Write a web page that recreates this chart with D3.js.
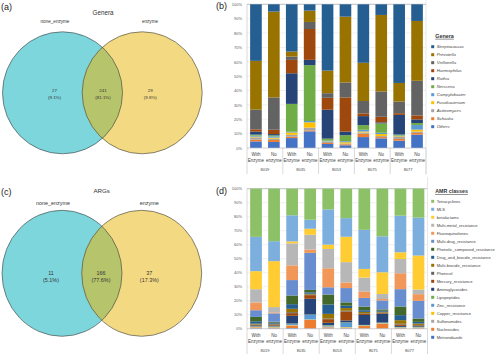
<!DOCTYPE html>
<html><head><meta charset="utf-8">
<script src="https://cdn.jsdelivr.net/npm/d3@7"></script>
<style>
body{margin:0;background:#fff}
svg{display:block}
text{font-family:"Liberation Sans",Arial,sans-serif}
</style>
</head><body>
<svg id="chart" width="500" height="354"></svg>
<script>
// ---------- DATA ----------
const sampleGroups = ["8019", "8035", "8053", "8075", "8077"];
const conditionLabels = [["With", "Enzyme"], ["No", "enzyme"]];
const yTicks = [0, 0.1, 0.2, 0.3, 0.4, 0.5, 0.6, 0.7, 0.8, 0.9, 1];

// Venn (a) Genera
const vennGeneraSets = ["none_enzyme", "enzyme"];
const vennGeneraCounts = ["27", "241", "29"];
const vennGeneraPercents = ["(9.1%)", "(81.1%)", "(9.8%)"];
// Venn (c) ARGs
const vennArgSets = ["none_enzyme", "enzyme"];
const vennArgCounts = ["11", "166", "37"];
const vennArgPercents = ["(5.1%)", "(77.6%)", "(17.3%)"];

// (b) genera, bars: 8019 With, 8019 No, 8035 With, 8035 No, ... 8077 No
const generaNames = ["Streptococcus", "Prevotella", "Veillonella", "Haemophilus", "Rothia", "Neisseria",
  "Campylobacter", "Fusobacterium", "Actinomyces", "Schaalia", "Others"]; // legend order (top of bar first)
const streptococcus = [39.4, 5.1, 32.9, 4.4, 46.1, 8.6, 40.7, 7.4, 54.9, 11.6];
const prevotella    = [34.0, 59.7, 3.5, 7.9, 15.7, 45.8, 26.6, 53.2, 13.0, 41.7];
const veillonella   = [13.7, 22.5, 2.3, 4.9, 3.2, 10.4, 8.6, 17.6, 8.1, 24.1];
const haemophilus   = [1.6, 3.0, 9.3, 21.5, 8.3, 23.8, 1.9, 3.9, 1.2, 2.8];
const rothia        = [2.1, 0.9, 21.3, 3.7, 20.1, 2.5, 6.3, 0.7, 13.7, 2.5];
const neisseria     = [0.7, 0.7, 19.4, 38.9, 1.4, 4.2, 3.2, 6.5, 0.7, 1.4];
const campylobacter = [0.7, 0.9, 0.5, 0.9, 0.5, 0.7, 1.2, 0.9, 0.5, 3.2];
const fusobacterium = [0.5, 0.7, 1.6, 3.7, 0.2, 0.9, 0.7, 1.4, 0.5, 1.4];
const actinomyces   = [1.6, 0.9, 1.4, 1.9, 0.9, 0.5, 0.9, 0.7, 1.4, 0.9];
const schaalia      = [1.2, 1.4, 0.9, 0.7, 0.7, 0.7, 2.3, 0.9, 1.2, 1.2];
const otherGenera   = [4.6, 4.2, 6.9, 11.6, 2.8, 1.9, 7.6, 6.7, 5.1, 9.3];
const generaColors = ["#255E91", "#997300", "#636363", "#9E480E", "#264478", "#70AD47",
  "#5B9BD5", "#FFC000", "#A5A5A5", "#ED7D31", "#4472C4"];

// (d) AMR classes
const amrNames = ["Tetracyclines", "MLS", "betalactams", "Multi-metal_resistance", "Fluoroquinolones",
  "Multi-drug_resistance", "Phenolic_compound_resistance", "Drug_and_biocide_resistance",
  "Multi-biocide_resistance", "Phenicol", "Mercury_resistance", "Aminoglycosides", "Lipopeptides",
  "Zinc_resistance", "Copper_resistance", "Sulfonamides", "Nucleosides", "Metronidazole"];
const tetracyclines   = [34.4, 37.6, 19.0, 22.1, 14.8, 21.0, 29.4, 34.0, 19.3, 20.7];
const mls             = [24.5, 14.3, 18.6, 6.4, 25.2, 13.3, 27.9, 25.7, 26.2, 27.1];
const betalactams     = [12.9, 32.9, 1.4, 4.3, 3.1, 18.1, 6.2, 15.5, 4.8, 24.3];
const multiMetal      = [9.5, 3.8, 15.7, 10.5, 13.8, 14.5, 10.0, 3.6, 10.2, 3.3];
const fluoroquinolones= [5.5, 0.7, 10.5, 2.4, 13.6, 4.0, 4.5, 1.0, 11.4, 4.8];
const multiDrug       = [4.8, 6.0, 11.0, 26.4, 5.2, 10.2, 6.2, 6.4, 12.4, 12.6];
const phenolic        = [3.1, 0.7, 6.2, 1.7, 7.1, 2.4, 2.6, 1.0, 6.2, 2.4];
const drugBiocide     = [1.7, 0.7, 3.3, 1.0, 6.7, 1.7, 1.2, 0.7, 3.6, 1.2];
const multiBiocide    = [0.6, 0.4, 2.4, 0.5, 3.3, 1.9, 1.0, 0.5, 2.6, 1.0];
const phenicol        = [0.2, 0.5, 0.7, 0.5, 0.5, 0.5, 0.5, 0.5, 0.5, 0.3];
const mercury         = [0.4, 0.5, 1.9, 2.6, 2.6, 6.4, 0.7, 0.5, 1.0, 0.5];
const aminoglycosides = [0.7, 0.5, 5.5, 11.2, 1.7, 1.4, 7.1, 6.2, 0.7, 0.5];
const lipopeptides    = [0.2, 0.3, 0.3, 0.2, 0.3, 0.3, 0.2, 0.2, 0.2, 0.3];
const zinc            = [0.2, 0.3, 0.7, 3.3, 0.7, 3.1, 0.2, 0.3, 0.2, 0.2];
const copper          = [0.2, 0.2, 0.2, 0.2, 0.3, 0.3, 0.2, 0.2, 0.2, 0.2];
const sulfonamides    = [0.2, 0.2, 0.3, 0.2, 0.3, 0.2, 0.2, 0.2, 0.2, 0.2];
const nucleosides     = [0.5, 0.4, 1.7, 6.0, 0.7, 0.3, 1.7, 3.3, 0.3, 0.3];
const metronidazole   = [0.4, 0.3, 0.5, 0.2, 0.2, 0.3, 0.2, 0.2, 0.2, 0.2];
const amrColors = ["#8CC168", "#7CAFDD", "#FFCD33", "#B7B7B7", "#F1975A", "#698ED0", "#43682B",
  "#255E91", "#997300", "#636363", "#9E480E", "#264478", "#70AD47", "#5B9BD5", "#FFC000",
  "#A5A5A5", "#ED7D31", "#4472C4"];

const generaSeries = [streptococcus, prevotella, veillonella, haemophilus, rothia, neisseria,
  campylobacter, fusobacterium, actinomyces, schaalia, otherGenera];
const amrSeries = [tetracyclines, mls, betalactams, multiMetal, fluoroquinolones, multiDrug, phenolic,
  drugBiocide, multiBiocide, phenicol, mercury, aminoglycosides, lipopeptides, zinc, copper,
  sulfonamides, nucleosides, metronidazole];

// ---------- DRAW ----------
const svg = d3.select("#chart");

function panelLabel(txt, x, y) {
  svg.append("text").attr("x", x).attr("y", y).attr("font-size", 9).attr("fill", "#222").text(txt);
}

function venn(o) {
  const g = svg.append("g");
  const id = "clip" + o.id;
  g.append("clipPath").attr("id", id).append("ellipse")
    .attr("cx", o.lx).attr("cy", o.cy).attr("rx", o.rx).attr("ry", o.ry);
  g.append("ellipse").attr("cx", o.lx).attr("cy", o.cy).attr("rx", o.rx).attr("ry", o.ry)
    .attr("fill", "#7ED6DD");
  g.append("ellipse").attr("cx", o.rxC).attr("cy", o.cy).attr("rx", o.rx).attr("ry", o.ry)
    .attr("fill", "#F3DA82");
  g.append("ellipse").attr("cx", o.rxC).attr("cy", o.cy).attr("rx", o.rx).attr("ry", o.ry)
    .attr("fill", "#B6C46C").attr("clip-path", `url(#${id})`);
  [o.lx, o.rxC].forEach(cx => g.append("ellipse").attr("cx", cx).attr("cy", o.cy)
    .attr("rx", o.rx).attr("ry", o.ry).attr("fill", "none").attr("stroke", "#3a3a3a").attr("stroke-width", 0.6));
  g.append("text").attr("x", o.titleX).attr("y", o.titleY).attr("text-anchor", "middle")
    .attr("font-size", o.titleSize).attr("fill", "#333").text(o.title);
  o.sets.forEach((s, i) => g.append("text").attr("x", o.setX[i]).attr("y", o.setY)
    .attr("text-anchor", "middle").attr("font-size", o.setSize).attr("fill", "#333").text(s));
  o.counts.forEach((c, i) => {
    g.append("text").attr("x", o.numX[i]).attr("y", o.numY).attr("text-anchor", "middle")
      .attr("font-size", o.numSize).attr("fill", "#333").text(c);
    g.append("text").attr("x", o.numX[i]).attr("y", o.numY + o.numGap).attr("text-anchor", "middle")
      .attr("font-size", o.numSize).attr("fill", "#333").text(o.pcts[i]);
  });
}

venn({id: "a", lx: 62.5, rxC: 142.2, cy: 92.8, rx: 60, ry: 61, title: "Genera", titleX: 103, titleY: 15,
  titleSize: 6.3, sets: vennGeneraSets, setX: [55, 150], setY: 23, setSize: 4.6,
  counts: vennGeneraCounts, pcts: vennGeneraPercents, numX: [54.5, 103, 150.3], numY: 92.3, numGap: 7, numSize: 4.4});
venn({id: "c", lx: 62, rxC: 141.7, cy: 273.3, rx: 60, ry: 63, title: "ARGs", titleX: 101.7, titleY: 193.2,
  titleSize: 6.2, sets: vennArgSets, setX: [53, 149.3], setY: 204.8, setSize: 5.4,
  counts: vennArgCounts, pcts: vennArgPercents, numX: [51, 101, 149.3], numY: 274.8, numGap: 7.6, numSize: 5.4});

panelLabel("(a)", 1, 9.5);
panelLabel("(b)", 216, 9.3);
panelLabel("(c)", 1, 195.3);
panelLabel("(d)", 216, 193.8);

function barPanel(o) {
  const g = svg.append("g");
  const n = o.series[0].length;
  const keys = o.names.slice().reverse(); // bottom-first
  const rows = d3.range(n).map(i => {
    const r = {};
    o.names.forEach((nm, k) => r[nm] = o.series[k][i]);
    return r;
  });
  const stacked = d3.stack().keys(keys).offset(d3.stackOffsetExpand)(rows);
  const color = d3.scaleOrdinal().domain(o.names).range(o.colors);
  const x = d3.scaleBand().domain(d3.range(n)).range([o.x0, o.x1]).paddingInner(0.35).paddingOuter(0.175);
  const y = d3.scaleLinear().domain([0, 1]).range([o.yb, o.yt]);
  const step = x.step();
  const lblBottom = o.yb + 26;

  // gridlines
  g.selectAll("line.grid").data(yTicks).join("line")
    .attr("x1", o.x0).attr("x2", o.x1).attr("y1", d => y(d)).attr("y2", d => y(d))
    .attr("stroke", d => d === 1 ? "#BFBFBF" : "#E3E3E3").attr("stroke-width", d => d === 1 ? 1 : 0.5);

  // bars
  g.selectAll("g.layer").data(stacked).join("g").attr("fill", d => color(d.key))
    .selectAll("rect").data(d => d).join("rect")
    .attr("x", (d, i) => x(i)).attr("width", x.bandwidth())
    .attr("y", d => y(d[1])).attr("height", d => Math.max(0, y(d[0]) - y(d[1])));

  // axes lines
  const axCol = "#BFBFBF";
  g.append("line").attr("x1", o.x0).attr("x2", o.x0).attr("y1", y(1)).attr("y2", lblBottom)
    .attr("stroke", axCol).attr("stroke-width", 0.6);
  g.append("line").attr("x1", o.x0).attr("x2", o.x1).attr("y1", y(0)).attr("y2", y(0))
    .attr("stroke", axCol).attr("stroke-width", 0.6);
  d3.range(1, sampleGroups.length + 1).forEach(k => {
    const xx = o.x0 + step * 2 * k;
    g.append("line").attr("x1", xx).attr("x2", xx).attr("y1", y(0)).attr("y2", lblBottom)
      .attr("stroke", axCol).attr("stroke-width", 0.6);
  });
  g.append("line").attr("x1", o.x1).attr("x2", o.x1).attr("y1", o.panelTop).attr("y2", o.panelBottom)
    .attr("stroke", "#D9D9D9").attr("stroke-width", 0.6);

  // y axis
  const ax = g.append("g").attr("transform", `translate(${o.x0 - 2},0)`)
    .call(d3.axisLeft(y).tickValues(yTicks).tickFormat(d3.format(".0%")).tickSize(0));
  ax.select(".domain").remove();
  ax.selectAll("text").attr("font-size", 4).attr("fill", "#595959")
    .attr("font-family", "Liberation Sans, Arial, sans-serif");

  // category labels
  d3.range(n).forEach(i => {
    const cx = x(i) + x.bandwidth() / 2;
    const lab = conditionLabels[i % 2];
    g.append("text").attr("x", cx).attr("y", o.yb + 8.2).attr("text-anchor", "middle")
      .attr("font-size", 4.5).attr("fill", "#444").text(lab[0]);
    g.append("text").attr("x", cx).attr("y", o.yb + 14).attr("text-anchor", "middle")
      .attr("font-size", 4.5).attr("fill", "#444").text(lab[1]);
  });
  sampleGroups.forEach((s, k) => {
    g.append("text").attr("x", o.x0 + step * (2 * k + 1)).attr("y", o.yb + 23)
      .attr("text-anchor", "middle").attr("font-size", 4).attr("fill", "#444").text(s);
  });

  // legend
  const t = g.append("text").attr("x", o.legX + 2.5).attr("y", o.legTitleY).attr("font-size", o.legTitleSize)
    .attr("font-weight", "bold").attr("text-decoration", "underline").attr("fill", "#333").text(o.legTitle);
  o.names.forEach((nm, k) => {
    const yy = o.legY0 + k * 8;
    g.append("rect").attr("x", o.legX - 1.5).attr("y", yy - 1.5).attr("width", 3).attr("height", 3)
      .attr("fill", color(nm));
    g.append("text").attr("x", o.legX + 4).attr("y", yy + 1.5).attr("font-size", o.legSize)
      .attr("font-style", o.italic ? "italic" : "normal").attr("fill", "#444").text(nm);
  });
}

barPanel({names: generaNames, series: generaSeries, colors: generaColors,
  x0: 247, x1: 426, yb: 148, yt: 4.3, panelTop: 0, panelBottom: 175,
  legX: 432.7, legTitleY: 37.8, legTitleSize: 5.4, legTitle: "Genera", legY0: 46.7, legSize: 4.3, italic: true});
barPanel({names: amrNames, series: amrSeries, colors: amrColors,
  x0: 247, x1: 427.5, yb: 328.7, yt: 188.7, panelTop: 177, panelBottom: 354,
  legX: 432.7, legTitleY: 193.2, legTitleSize: 5.3, legTitle: "AMR classes", legY0: 201.3, legSize: 4.1, italic: false});
</script>
</body></html>
